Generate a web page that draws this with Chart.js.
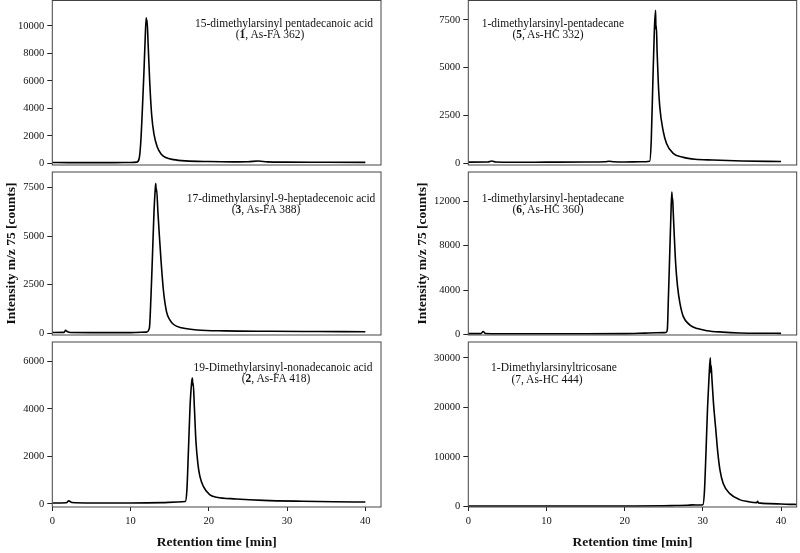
<!DOCTYPE html>
<html>
<head>
<meta charset="utf-8">
<script src="https://cdn.jsdelivr.net/npm/chart.js@4.4.1/dist/chart.umd.min.js"></script>
<style>
  body { margin: 0; background: #fff; }
  #wrap { position: relative; width: 800px; height: 553px; overflow: hidden; font-family: "Liberation Serif", "Times New Roman", serif; }
  canvas { position: absolute; left: 0; top: -20px; pointer-events: none; }
  .note { position: absolute; white-space: nowrap; font-size: 11.5px; color: #111; transform: translate(-50%, -50%); line-height: 1; }
</style>
</head>
<body>
<div id="wrap">
  <canvas id="p1" width="800" height="573"></canvas>
  <canvas id="p3" width="800" height="573"></canvas>
  <canvas id="p2" width="800" height="573"></canvas>
  <canvas id="p5" width="800" height="573"></canvas>
  <canvas id="p6" width="800" height="573"></canvas>
  <canvas id="p7" width="800" height="573"></canvas>

  <div class="note" style="left:284px;top:24px">15-dimethylarsinyl pentadecanoic acid</div>
  <div class="note" style="left:270px;top:35px">(<b>1</b>, As-FA 362)</div>
  <div class="note" style="left:281px;top:199px">17-dimethylarsinyl-9-heptadecenoic acid</div>
  <div class="note" style="left:266px;top:210px">(<b>3</b>, As-FA 388)</div>
  <div class="note" style="left:283px;top:368px">19-Dimethylarsinyl-nonadecanoic acid</div>
  <div class="note" style="left:276px;top:379px">(<b>2</b>, As-FA 418)</div>
  <div class="note" style="left:553px;top:24px">1-dimethylarsinyl-pentadecane</div>
  <div class="note" style="left:548px;top:35px">(<b>5</b>, As-HC 332)</div>
  <div class="note" style="left:553px;top:199px">1-dimethylarsinyl-heptadecane</div>
  <div class="note" style="left:548px;top:210px">(<b>6</b>, As-HC 360)</div>
  <div class="note" style="left:554px;top:368px">1-Dimethylarsinyltricosane</div>
  <div class="note" style="left:547px;top:380px">(7, As-HC 444)</div>
</div>
<script>
// retention time ticks (min)
const xTicks = [0, 10, 20, 30, 40];

// 15-dimethylarsinyl pentadecanoic acid (1, As-FA 362)
const t1 = [0, 2, 5, 8, 10, 10.8, 11.1, 11.3, 11.5, 11.7, 11.85, 12.0, 12.05, 12.1, 12.25, 12.45, 12.7, 13.0, 13.4, 13.9, 14.5, 15.5, 17, 20, 23, 25, 26.3, 27.5, 30, 35, 40];
const y1 = [60, 55, 50, 55, 60, 90, 350, 1500, 3800, 6500, 8800, 10600, 10150, 10450, 8600, 5900, 3500, 2100, 1200, 680, 420, 270, 180, 130, 110, 120, 170, 110, 90, 80, 70];
const yTicks1 = [0, 2000, 4000, 6000, 8000, 10000];

// 17-dimethylarsinyl-9-heptadecenoic acid (3, As-FA 388)
const t3 = [0, 1.5, 1.7, 1.9, 2.3, 5, 10, 12.0, 12.4, 12.6, 12.8, 13.0, 13.15, 13.22, 13.27, 13.32, 13.5, 13.7, 13.9, 14.2, 14.6, 15.0, 15.5, 16.5, 18.5, 22, 28, 34, 40];
const y3 = [40, 45, 150, 90, 35, 30, 30, 60, 250, 1800, 4000, 6300, 7400, 7700, 7300, 7450, 6200, 4900, 3700, 2200, 1100, 700, 450, 280, 170, 120, 100, 90, 80];
const yTicks3 = [0, 2500, 5000, 7500];

// 19-Dimethylarsinyl-nonadecanoic acid (2, As-FA 418)
const t2 = [0, 1.8, 2.1, 2.5, 5, 10, 14, 16, 17.0, 17.2, 17.4, 17.6, 17.8, 17.9, 17.95, 18.0, 18.15, 18.35, 18.6, 18.86, 19.3, 20.1, 21, 23.5, 27, 32, 36, 40];
const y2 = [40, 50, 130, 60, 40, 40, 55, 80, 100, 600, 2300, 4100, 5100, 5300, 5000, 5100, 4100, 2650, 1700, 1160, 740, 390, 280, 210, 150, 110, 90, 80];
const yTicks2 = [0, 2000, 4000, 6000];

// 1-dimethylarsinyl-pentadecane (5, As-HC 332)
const t5 = [0, 2.5, 3.0, 3.5, 6, 10, 15, 17.5, 18, 18.6, 20, 22, 23.2, 23.4, 23.6, 23.8, 23.95, 24.0, 24.05, 24.15, 24.3, 24.5, 24.9, 25.35, 26.2, 27.5, 29, 31.3, 35, 40];
const y5 = [50, 55, 110, 55, 45, 50, 55, 70, 95, 70, 60, 70, 100, 1200, 4200, 7000, 8000, 7000, 7200, 5800, 4200, 2900, 1730, 1030, 510, 300, 200, 160, 110, 80];
const yTicks5 = [0, 2500, 5000, 7500];

// 1-dimethylarsinyl-heptadecane (6, As-HC 360)
const t6 = [0, 1.6, 1.9, 2.2, 4, 10, 15, 20, 22.6, 24, 25.3, 25.45, 25.6, 25.75, 25.9, 26.03, 26.09, 26.13, 26.2, 26.35, 26.52, 26.75, 27.07, 27.5, 28.35, 29.3, 30.5, 32.5, 34.7, 37, 40];
const y6 = [60, 60, 250, 70, 50, 50, 55, 60, 110, 140, 160, 400, 3500, 7000, 10500, 12850, 12100, 12300, 11200, 8800, 6400, 4400, 2800, 1600, 840, 520, 330, 200, 120, 100, 90];
const yTicks6 = [0, 4000, 8000, 12000];

// 1-Dimethylarsinyltricosane (7, As-HC 444)
const t7 = [0, 5, 10, 15, 20, 25, 26.5, 28, 28.7, 29.5, 30.0, 30.2, 30.4, 30.6, 30.8, 30.95, 31.0, 31.05, 31.15, 31.35, 31.68, 31.9, 32.19, 32.6, 33.45, 34.7, 35.8, 36.9, 37.0, 37.1, 38.5, 41.1, 42];
const y7 = [50, 50, 50, 60, 70, 100, 150, 200, 280, 250, 300, 3000, 11000, 20000, 26500, 30000, 27000, 28500, 26000, 21000, 15000, 11000, 7300, 4600, 2570, 1350, 950, 740, 1000, 700, 550, 400, 380];
const yTicks7 = [0, 10000, 20000, 30000];

const tickFont = { family: '"Liberation Serif", "Times New Roman", serif', size: 10.5 };
const titleFont = { family: '"Liberation Serif", "Times New Roman", serif', size: 13.5, weight: 'bold' };
const SHIFT = 20; // canvases sit 20px above the page so the top row is not pushed down

/* box around each plot area */
const frame = {
  id: 'frame',
  afterDatasetsDraw(chart) {
    const a = chart.chartArea, ctx = chart.ctx;
    ctx.save();
    ctx.strokeStyle = '#444';
    ctx.lineWidth = 1;
    ctx.strokeRect(a.left, a.top, a.right - a.left, a.bottom - a.top);
    ctx.restore();
  }
};

// box = [left, right, top, bottom] of plot area in page pixels
function panel(id, t, y, yTicks, yMin, yMax, box, opts) {
  const padL = box[0] < 400 ? 0 : 400;
  const H = 553 + SHIFT;
  const pts = t.map((v, i) => ({ x: v, y: y[i] }));
  new Chart(document.getElementById(id), {
    type: 'line',
    data: { datasets: [{ data: pts, borderColor: '#000', borderWidth: 1.6, pointRadius: 0, cubicInterpolationMode: 'monotone', fill: false }] },
    options: {
      responsive: false, animation: false, events: [],
      layout: { autoPadding: false, padding: { left: padL, right: 800 - box[1], top: box[2] + SHIFT, bottom: opts.bottom ? 0 : H - box[3] - SHIFT } },
      plugins: { legend: { display: false }, tooltip: { enabled: false } },
      scales: {
        x: {
          type: 'linear', min: 0, max: 42, display: !!opts.bottom,
          afterBuildTicks: s => { s.ticks = xTicks.map(v => ({ value: v })); },
          afterFit: s => { if (opts.bottom) s.height = 553 - box[3]; },
          ticks: { font: tickFont, color: '#111', padding: 3.7, maxRotation: 0, callback: v => String(v) },
          grid: { drawOnChartArea: false, drawTicks: true, tickLength: 4, color: '#222' },
          border: { display: false },
          title: { display: true, text: 'Retention time [min]', font: titleFont, color: '#111', padding: { top: 0, bottom: 2.6 } }
        },
        y: {
          type: 'linear', min: yMin, max: yMax,
          afterBuildTicks: s => { s.ticks = yTicks.map(v => ({ value: v })); },
          afterFit: s => { s.width = box[0] - padL; },
          ticks: { font: tickFont, color: '#111', padding: 3, callback: v => String(v) },
          grid: { drawOnChartArea: false, drawTicks: true, tickLength: 5, color: '#222' },
          border: { display: false },
          title: { display: !!opts.ytitle, text: 'Intensity m/z 75 [counts]', font: titleFont, color: '#111', padding: { top: padL ? 14 : 3, bottom: 0 } }
        }
      }
    },
    plugins: [frame]
  });
}

panel('p1', t1, y1, yTicks1, -120, 11850, [52.3, 381, 0.5, 165], {});
panel('p3', t3, y3, yTicks3, -90, 8300, [52.3, 381, 172, 335], { ytitle: true });
panel('p2', t2, y2, yTicks2, -130, 6820, [52.3, 381, 342, 507], { bottom: true });
panel('p5', t5, y5, yTicks5, -100, 8520, [468.3, 796.7, 0.5, 165], {});
panel('p6', t6, y6, yTicks6, -60, 14660, [468.3, 796.7, 172, 335], { ytitle: true });
panel('p7', t7, y7, yTicks7, -140, 33200, [468.3, 796.7, 342, 507], { bottom: true });
</script>
</body>
</html>
